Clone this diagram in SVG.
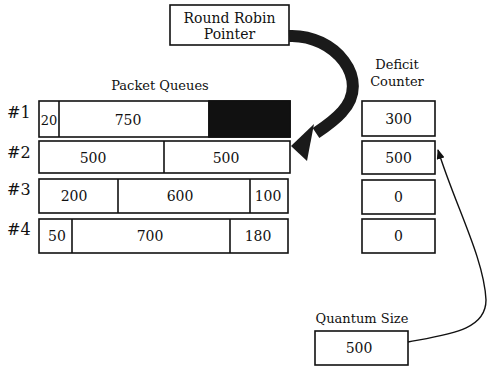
<svg xmlns="http://www.w3.org/2000/svg" width="487" height="366" viewBox="0 0 487 366">
<style>
.box{fill:#fff;stroke:#111;stroke-width:1.6}
.div{stroke:#111;stroke-width:1.6}
.t{font-family:"DejaVu Serif","Liberation Serif",serif;font-size:13px;fill:#111;text-anchor:middle}
.n{font-family:"DejaVu Serif","Liberation Serif",serif;font-size:14px;fill:#111;text-anchor:middle}
.h{font-family:"DejaVu Serif","Liberation Serif",serif;font-size:16px;fill:#111}
</style>
<defs>
<marker id="thin" markerWidth="10" markerHeight="8" refX="9" refY="4" orient="auto" markerUnits="userSpaceOnUse">
<path d="M0,0 L10,4 L0,8 Z" fill="#111"/>
</marker>
</defs>
<rect width="487" height="366" fill="#fff"/>

<g id="rr-pointer">
<rect class="box" x="170" y="5" width="119" height="40"/>
<text class="t" x="229.5" y="23" style="font-size:14px">Round Robin</text>
<text class="t" x="229.5" y="39" style="font-size:14px">Pointer</text>
</g>

<g id="packet-queues-label">
<text class="t" x="160" y="90">Packet Queues</text>
</g>

<g id="deficit-label">
<text class="t" x="397" y="69">Deficit</text>
<text class="t" x="397" y="86">Counter</text>
</g>

<g id="queue1">
<text class="h" x="7" y="118">#1</text>
<rect class="box" x="39" y="101" width="251" height="36"/>
<rect x="209" y="101" width="81" height="36" fill="#111" stroke="#111" stroke-width="1.6"/>
<line class="div" x1="59" y1="101" x2="59" y2="137"/>
<line class="div" x1="209" y1="101" x2="209" y2="137"/>
<text class="n" x="49" y="125" style="font-size:13px">20</text>
<text class="n" x="128" y="125">750</text>
</g>

<g id="queue2">
<text class="h" x="7" y="158">#2</text>
<rect class="box" x="39" y="141" width="251" height="32"/>
<line class="div" x1="164" y1="141" x2="164" y2="173"/>
<text class="n" x="93" y="163">500</text>
<text class="n" x="226" y="163">500</text>
</g>

<g id="queue3">
<text class="h" x="7" y="195">#3</text>
<rect class="box" x="39" y="179" width="249" height="34"/>
<line class="div" x1="118" y1="179" x2="118" y2="213"/>
<line class="div" x1="250" y1="179" x2="250" y2="213"/>
<text class="n" x="74" y="201">200</text>
<text class="n" x="180" y="201">600</text>
<text class="n" x="268" y="201">100</text>
</g>

<g id="queue4">
<text class="h" x="7" y="235">#4</text>
<rect class="box" x="39" y="219" width="249" height="34"/>
<line class="div" x1="72" y1="219" x2="72" y2="253"/>
<line class="div" x1="230" y1="219" x2="230" y2="253"/>
<text class="n" x="57" y="241">50</text>
<text class="n" x="150" y="241">700</text>
<text class="n" x="258" y="241">180</text>
</g>

<g id="deficit1">
<rect class="box" x="362" y="101" width="73" height="35"/>
<text class="n" x="398.5" y="124">300</text>
</g>
<g id="deficit2">
<rect class="box" x="362" y="141" width="73" height="33"/>
<text class="n" x="398.5" y="163">500</text>
</g>
<g id="deficit3">
<rect class="box" x="362" y="180" width="73" height="34"/>
<text class="n" x="398.5" y="202">0</text>
</g>
<g id="deficit4">
<rect class="box" x="362" y="219" width="73" height="34"/>
<text class="n" x="398.5" y="241">0</text>
</g>

<g id="quantum">
<text class="t" x="362" y="323">Quantum Size</text>
<rect class="box" x="315" y="331" width="93" height="34"/>
<text class="n" x="359" y="353">500</text>
</g>

<g id="connectors">
<path d="M289,36 C335,34 372,80 342,112 C334,121 325,127 316,133" fill="none" stroke="#1a1a1a" stroke-width="12"/>
<polygon points="291,146 314,124 307,161" fill="#1a1a1a"/>
<path d="M408,342 C450,334 486,330 486,300 C484,258 455,205 438,150" fill="none" stroke="#111" stroke-width="1.4" marker-end="url(#thin)"/>
</g>
</svg>
